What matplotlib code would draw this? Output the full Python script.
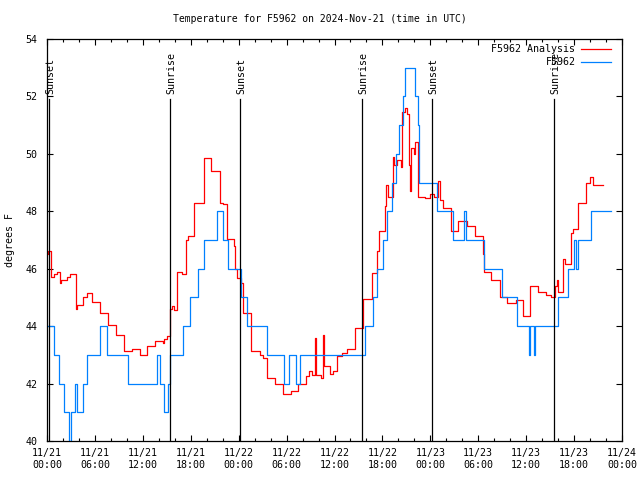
import matplotlib
matplotlib.use("Agg")
import matplotlib.pyplot as plt

# hours since 2024-11-21 00:00 UTC
analysis_t = [0, 0.15, 0.55, 0.9, 1.25, 1.6, 1.75, 2.5, 2.9, 3.63, 3.8, 4.5, 5.0, 5.6,
              6.6, 7.6, 8.6, 9.6, 10.6, 11.6, 12.5, 13.5, 14.5, 14.6, 15.0, 15.4, 15.7,
              15.9, 16.3, 16.9, 17.4, 17.6, 18.4, 19.6, 20.5, 21.6, 22.0, 22.6, 23.4,
              23.5, 23.8, 24.3, 24.5, 25.6, 26.7, 27.0, 27.5, 28.6, 29.6, 30.6, 31.4,
              32.4, 32.8, 33.2, 33.6, 33.7, 34.3, 34.5, 34.7, 35.3, 35.4, 35.8, 36.3,
              36.9, 37.6, 38.6, 39.6, 40.7, 41.3, 41.6, 42.3, 42.5, 42.7, 43.3, 43.5,
              43.8, 44.3, 44.5, 44.8, 45.1, 45.3, 45.5, 45.6, 45.9, 46.1, 46.5, 47.3,
              48.0, 48.4, 48.9, 49.2, 49.6, 50.6, 51.5, 52.6, 53.6, 54.6, 54.7, 55.6,
              56.7, 57.6, 58.7, 59.6, 60.5, 61.5, 62.5, 63.1, 63.6, 63.9, 64.0, 64.6,
              64.9, 65.6, 65.9, 66.5, 67.5, 68.0, 68.4, 69.6]
analysis_v = [46.5, 46.6, 45.7, 45.8, 45.9, 45.5, 45.6, 45.7, 45.8, 44.6, 44.75, 45.0, 45.15, 44.85,
              44.45, 44.05, 43.7, 43.15, 43.2, 42.98, 43.3, 43.5, 43.4, 43.55, 43.65, 44.6, 44.7,
              44.55, 45.9, 45.8, 47.0, 47.15, 48.3, 49.85, 49.4, 48.3, 48.25, 47.05, 46.8,
              46.0, 45.66, 45.5, 44.45, 43.15, 43.0, 42.9, 42.2, 42.0, 41.65, 41.75, 42.0,
              42.25, 42.45, 42.3, 43.6, 42.3, 42.2, 43.7, 42.6, 42.6, 42.35, 42.45, 42.95,
              43.05, 43.2, 43.95, 44.95, 45.85, 46.6, 47.3, 48.2, 48.9, 48.5, 49.9, 49.6,
              49.8, 49.55, 51.45, 51.6, 51.4, 49.6, 48.7, 50.2, 50.0, 50.4, 48.5, 48.45,
              48.6, 48.5, 49.05, 48.4, 48.1, 47.3, 47.65, 47.5, 47.15, 46.5, 45.9, 45.6,
              45.0, 44.8, 44.9, 44.35, 45.4, 45.2, 45.1, 45.0, 45.4, 45.6, 45.2, 46.35,
              46.15, 47.25, 47.4, 48.3, 49.0, 49.2, 48.9, 48.9]

station_t = [0, 0.9, 1.5, 2.1, 2.8, 3.0, 3.5, 3.76, 4.5, 5.0, 6.64, 7.5, 10.14, 13.77,
             14.15, 14.65, 15.15, 15.4, 17.0, 17.9, 18.9, 19.66, 21.3, 22.0, 22.66, 24.3,
             25.0, 27.55, 29.68, 30.3, 31.2, 31.7, 39.8, 40.8, 41.3, 42.07, 42.57, 43.16,
             43.7, 44.08, 44.54, 44.83, 46.08, 46.46, 46.58, 48.84, 50.84, 52.22, 52.47,
             54.72, 56.97, 58.85, 60.36, 60.48, 60.98, 61.1, 63.99, 65.24, 65.99, 66.3,
             66.45, 68.12, 70.62]
station_v = [44, 43, 42, 41, 40, 41, 42, 41, 42, 43, 44, 43, 42, 43,
             42, 41, 42, 43, 44, 45, 46, 47, 48, 47, 46, 45,
             44, 43, 42, 43, 42, 43, 44, 45, 46, 47, 48, 49,
             50, 51, 52, 53, 52, 51, 49, 48, 47, 48, 47,
             46, 45, 44, 43, 44, 43, 44, 45, 46, 47, 46,
             47, 48, 48]

sun_t = [0.29, 15.44, 24.17, 39.44, 48.2, 63.5]
sun_lbl = ["Sunset", "Sunrise", "Sunset", "Sunrise", "Sunset", "Sunrise"]

xticks = [0, 6, 12, 18, 24, 30, 36, 42, 48, 54, 60, 66, 72]
xlabels = ["11/21\n00:00", "11/21\n06:00", "11/21\n12:00", "11/21\n18:00",
           "11/22\n00:00", "11/22\n06:00", "11/22\n12:00", "11/22\n18:00",
           "11/23\n00:00", "11/23\n06:00", "11/23\n12:00", "11/23\n18:00",
           "11/24\n00:00"]
yticks = [40, 42, 44, 46, 48, 50, 52, 54]

plt.rcParams["font.family"] = "DejaVu Sans Mono"
plt.rcParams["font.size"] = 7

fig = plt.figure(figsize=(6.4, 4.8), dpi=100)
ax = fig.add_axes([47 / 640, 39 / 480, 575 / 640, 402 / 480])

ax.plot(analysis_t, analysis_v, color="#ff0000", lw=0.9, drawstyle="steps-post")
ax.plot(station_t, station_v, color="#0080ff", lw=0.9, drawstyle="steps-post")

for t, s in zip(sun_t, sun_lbl):
    ax.plot([t, t], [40, 51.9], color="black", lw=0.9)
    ax.text(t + 0.15, 52.1, s, rotation=90, ha="center", va="bottom", fontsize=7.2)

ax.set_xlim(0, 72)
ax.set_ylim(40, 54)
ax.set_xticks(xticks)
ax.set_xticklabels(xlabels, linespacing=1.3)
ax.set_xticks(range(0, 73, 2), minor=True)
ax.set_yticks(yticks)
ax.tick_params(direction="in", top=True, right=True, length=4, width=0.8, labelsize=7.2)
ax.tick_params(axis="x", pad=5)
ax.tick_params(axis="y", pad=7)
ax.tick_params(which="minor", direction="in", top=True, length=2.2, width=0.8)
for sp in ax.spines.values():
    sp.set_linewidth(0.9)

# legend drawn like gnuplot's (text right-aligned, sample on the right)
ax.text(0.919, 0.975, "F5962 Analysis", transform=ax.transAxes, ha="right", va="center", fontsize=7.2)
ax.text(0.919, 0.9425, "F5962", transform=ax.transAxes, ha="right", va="center", fontsize=7.2)
ax.plot([0.929, 0.980], [0.975, 0.975], transform=ax.transAxes, color="#ff0000", lw=0.9)
ax.plot([0.929, 0.980], [0.9425, 0.9425], transform=ax.transAxes, color="#0080ff", lw=0.9)

fig.text(0.5, 1 - 19 / 480, "Temperature for F5962 on 2024-Nov-21 (time in UTC)",
         ha="center", va="center", fontsize=7)
fig.text(10 / 640, 1 - 240 / 480, "degrees F", rotation=90, ha="center", va="center", fontsize=7.2)

fig.savefig("out.png", dpi=100)
